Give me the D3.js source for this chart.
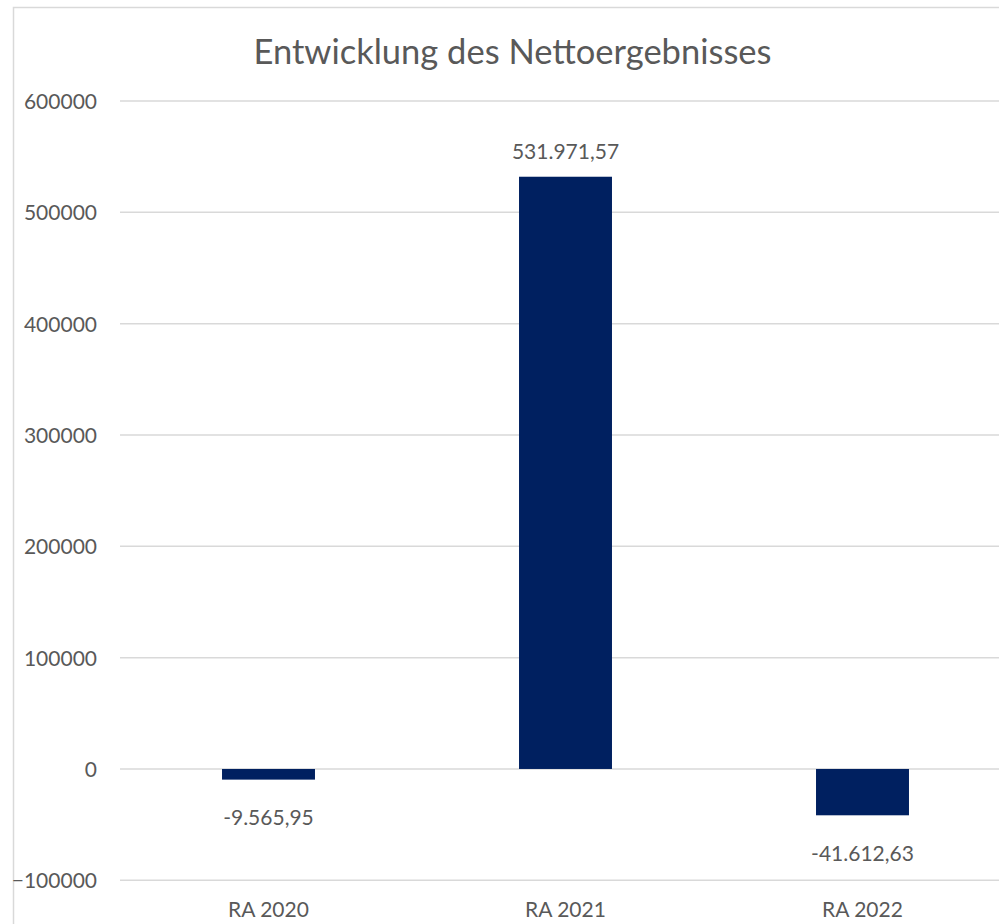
<!DOCTYPE html>
<html>
<head>
<meta charset="utf-8">
<script src="https://cdn.jsdelivr.net/npm/d3@7"></script>
<style>
  body { margin: 0; background: #fff; }
  text { font-family: Lato, "Open Sans", sans-serif; fill: #595959; }
</style>
</head>
<body>
<div id="chart1"></div>
<script>
// data
const categories = ['RA 2020', 'RA 2021', 'RA 2022'];
const values = [-9565.95, 531971.57, -41612.63];
const valueLabels = ['-9.565,95', '531.971,57', '-41.612,63'];
const yTicks = [-100000, 0, 100000, 200000, 300000, 400000, 500000, 600000];
const title = 'Entwicklung des Nettoergebnisses';

const width = 999, height = 924;

const svg = d3.select('#chart1')
  .append('svg')
  .attr('width', width)
  .attr('height', height);

// chart border (right/bottom edges fall outside the picture)
svg.append('rect')
  .attr('x', 13.5).attr('y', 7.5)
  .attr('width', 1010).attr('height', 940)
  .attr('fill', 'none')
  .attr('stroke', '#d9d9d9')
  .attr('stroke-width', 1.5);

// scales
const yScale = d3.scaleLinear()
  .domain([-100000, 600000])
  .range([880.3, 101]);

const xScale = d3.scaleBand()
  .domain(categories)
  .range([120, 1011])
  .paddingInner(0.687)
  .paddingOuter(0.3435);

// gridlines
svg.selectAll('.grid')
  .data(yTicks)
  .enter()
  .append('line')
  .attr('class', 'grid')
  .attr('x1', 120).attr('x2', 1011)
  .attr('y1', d => yScale(d)).attr('y2', d => yScale(d))
  .attr('stroke', '#d9d9d9')
  .attr('stroke-width', 1.5);

// y axis labels
const yAxis = d3.axisLeft(yScale).tickValues(yTicks).tickSize(0).tickPadding(0)
  .tickFormat(d3.format('d'));
const yAxisG = svg.append('g')
  .attr('transform', 'translate(97,0)')
  .call(yAxis);
yAxisG.select('.domain').remove();
yAxisG.selectAll('text')
  .attr('font-size', 21)
  .attr('font-family', 'Lato, "Open Sans", sans-serif')
  .attr('fill', '#595959')
  .attr('dy', '0.35em');

// bars
svg.selectAll('.bar')
  .data(values)
  .enter()
  .append('rect')
  .attr('class', 'bar')
  .attr('x', (d, i) => xScale(categories[i]))
  .attr('width', xScale.bandwidth())
  .attr('y', d => yScale(Math.max(0, d)))
  .attr('height', d => Math.abs(yScale(d) - yScale(0)))
  .attr('fill', '#002060');

// value labels
svg.selectAll('.val')
  .data(values)
  .enter()
  .append('text')
  .attr('class', 'val')
  .attr('x', (d, i) => xScale(categories[i]) + xScale.bandwidth() / 2)
  .attr('y', d => d >= 0 ? yScale(d) - 25 : yScale(d) + 38)
  .attr('dy', '0.35em')
  .attr('text-anchor', 'middle')
  .attr('font-size', 21)
  .text((d, i) => valueLabels[i]);

// category labels
svg.selectAll('.cat')
  .data(categories)
  .enter()
  .append('text')
  .attr('class', 'cat')
  .attr('x', d => xScale(d) + xScale.bandwidth() / 2)
  .attr('y', 910)
  .attr('dy', '0.35em')
  .attr('text-anchor', 'middle')
  .attr('font-size', 21)
  .text(d => d);

// title
svg.append('text')
  .attr('x', 512.5)
  .attr('y', 52)
  .attr('dy', '0.35em')
  .attr('text-anchor', 'middle')
  .attr('font-size', 34.5)
  .text(title);
</script>
</body>
</html>
